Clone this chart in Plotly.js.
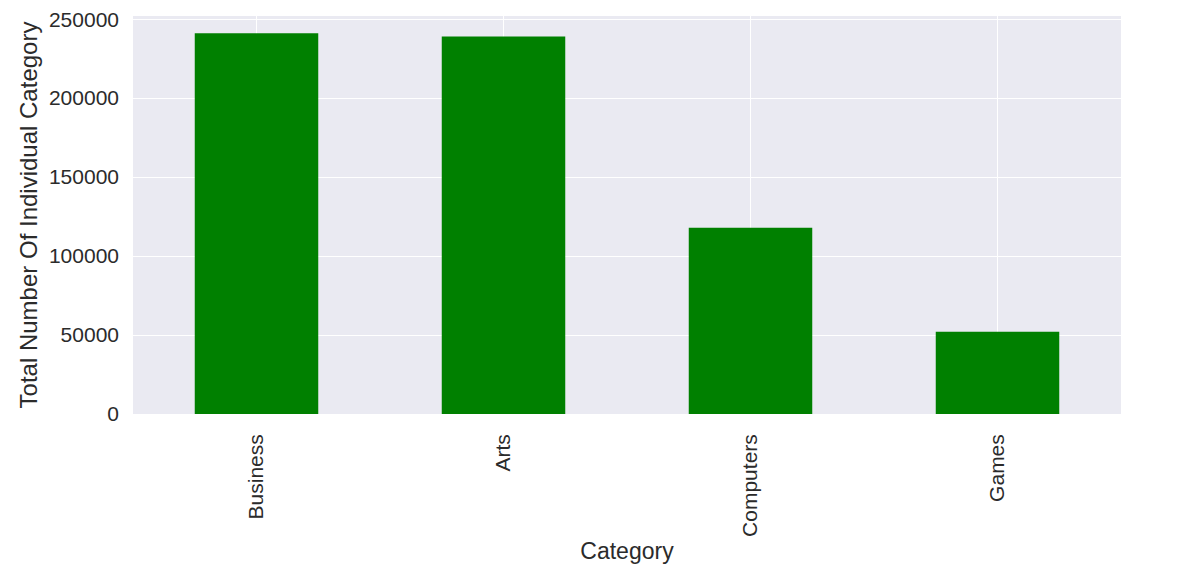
<!DOCTYPE html>
<html>
<head>
<meta charset="utf-8">
<script src="https://cdn.plot.ly/plotly-3.0.1.min.js"></script>
<style>
  html, body { margin: 0; padding: 0; background: #ffffff; }
  #chart { width: 1196px; height: 577px; }
</style>
</head>
<body>
<div id="chart"></div>
<script>
// Category counts
const categories = ['Business', 'Arts', 'Computers', 'Games'];
const totals = [241000, 239000, 118000, 52000];
const yTicks = [0, 50000, 100000, 150000, 200000, 250000];

const textColor = '#2b2b2b';
const fontFamily = '"Liberation Sans", Arial, sans-serif';

const data = [{
  type: 'bar',
  x: categories,
  y: totals,
  width: 0.5,
  marker: { color: '#008000', line: { width: 0 } },
  hoverinfo: 'x+y'
}];

const layout = {
  width: 1196,
  height: 577,
  paper_bgcolor: '#ffffff',
  plot_bgcolor: '#EAEAF2',
  margin: { l: 133, r: 75, t: 16, b: 163 },
  font: { family: fontFamily, color: textColor, size: 21 },
  showlegend: false,
  bargap: 0.5,
  xaxis: {
    type: 'category',
    range: [-0.5, 3.5],
    showgrid: true,
    gridcolor: '#ffffff',
    gridwidth: 1,
    zeroline: false,
    showline: false,
    ticks: '',
    tickangle: -90,
    ticklabelstandoff: 15,
    tickfont: { size: 21, color: textColor },
    title: { text: 'Category', font: { size: 23, color: textColor }, standoff: 6 },
    automargin: false,
    fixedrange: true
  },
  yaxis: {
    range: [0, 252000],
    tickvals: yTicks,
    ticktext: yTicks.map(String),
    showgrid: true,
    gridcolor: '#ffffff',
    gridwidth: 1,
    zeroline: false,
    showline: false,
    ticks: '',
    ticklabelstandoff: 13,
    tickfont: { size: 21, color: textColor },
    title: { text: 'Total Number Of Individual Category', font: { size: 24, color: textColor }, standoff: 4 },
    automargin: false,
    fixedrange: true
  }
};

Plotly.newPlot('chart', data, layout, { displayModeBar: false, staticPlot: true });
</script>
</body>
</html>
